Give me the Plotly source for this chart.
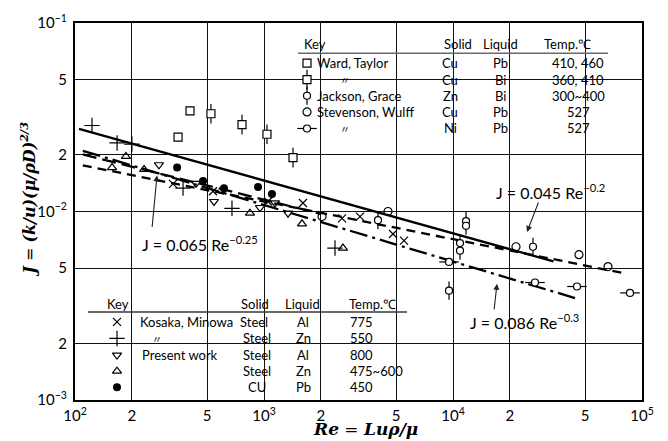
import plotly.graph_objects as go

# ---------------- measured data: Reynolds number / J factor ----------------
ward_cupb_re = [351, 406]
ward_cupb_j = [0.0248, 0.0342]
ward_cubi_re = [524, 765, 1037, 1424]
ward_cubi_j = [0.0330, 0.0289, 0.0257, 0.0193]
jackson_re = [4010, 11720, 11720, 10890, 10890, 9525, 26500]
jackson_j = [0.0090, 0.0089, 0.0084, 0.0068, 0.0062, 0.0038, 0.0065]
stev_cu_re = [2028, 4530, 21540, 46400, 66100]
stev_cu_j = [0.0094, 0.0100, 0.0065, 0.0059, 0.0051]
stev_ni_re = [9525, 27150, 45300, 86400]
stev_ni_j = [0.0054, 0.0042, 0.0040, 0.0037]
kosaka_al_re = [330, 537, 1050, 1608, 2587, 3220, 4815, 5505]
kosaka_al_j = [0.0140, 0.0128, 0.0113, 0.0111, 0.0092, 0.0094, 0.0076, 0.0070]
kosaka_zn_re = [123, 167, 200, 373, 677, 2375]
kosaka_zn_j = [0.0286, 0.0231, 0.0228, 0.0133, 0.0104, 0.0064]
present_al_re = [278, 437, 544, 952, 1143, 1340]
present_al_j = [0.0177, 0.0141, 0.0113, 0.0105, 0.0111, 0.0098]
present_zn_re = [157, 186, 232, 843, 1589, 2617]
present_zn_j = [0.0171, 0.0196, 0.0167, 0.0098, 0.0086, 0.0064]
present_cupb_re = [347, 476, 614, 930, 1102]
present_cupb_j = [0.0171, 0.0145, 0.0133, 0.0135, 0.0124]

# ---------------- correlations J = C * Re^n over [Re_min, Re_max] ----------------
fit_solid = dict(C=0.101, n=-0.28, re=[105, 34000])
fit_045 = dict(C=0.045, n=-0.2, re=[110, 81300])
fit_065 = dict(C=0.065, n=-0.25, re=[110, 2000])
fit_086 = dict(C=0.086, n=-0.3, re=[110, 44200])

# ---------------- axis ticks ----------------
x_tickvals = [100, 200, 500, 1000, 2000, 5000, 10000, 20000, 50000, 100000]
x_ticktext = ["10<sup>2</sup>", "2", "5", "10<sup>3</sup>", "2", "5",
              "10<sup>4</sup>", "2", "5", "10<sup>5</sup>"]
y_tickvals = [0.001, 0.002, 0.005, 0.01, 0.02, 0.05, 0.1]
y_ticktext = ["10<sup>−3</sup>", "2", "5", "10<sup>−2</sup>", "2", "5", "10<sup>−1</sup>"]

# key tables
key_top_rows = [
    ("sq", "Ward, Taylor", "Cu", "Pb", "410, 460"),
    ("sqbar", "〃", "Cu", "Bi", "360, 410"),
    ("phi", "Jackson, Grace", "Zn", "Bi", "300~400"),
    ("circ", "Stevenson, Wulff", "Cu", "Pb", "527"),
    ("circbar", "〃", "Ni", "Pb", "527"),
]
key_bot_rows = [
    ("x", "Kosaka, Minowa", "Steel", "Al", "775"),
    ("plus", "〃", "Steel", "Zn", "550"),
    ("tdown", "Present work", "Steel", "Al", "800"),
    ("tup", "", "Steel", "Zn", "475~600"),
    ("dot", "", "CU", "Pb", "450"),
]

# ---------------- page geometry ----------------
W, H = 668, 441
ML, MR, MT, MB = 75, 26, 14, 41
PW, PH = W - ML - MR, H - MT - MB


def fx(x):
    return (x - ML) / PW


def fy(y):
    return (H - MB - y) / PH


TXT = "Lato"
SERIF = "DejaVu Serif"

fig = go.Figure()


def add_marks(xs, ys, kind, xa="x", ya="y"):
    common = dict(mode="markers", xaxis=xa, yaxis=ya, showlegend=False, hoverinfo="skip")
    blk = dict(color="black", width=1.2)
    if kind == "sq":
        fig.add_trace(go.Scatter(x=xs, y=ys, marker=dict(symbol="square-open", size=8, color="black", line=blk), **common))
    elif kind == "sqbar":
        fig.add_trace(go.Scatter(x=xs, y=ys, marker=dict(symbol="line-ns-open", size=14, color="black", line=blk), **common))
        fig.add_trace(go.Scatter(x=xs, y=ys, marker=dict(symbol="square", size=8, color="white", line=blk), **common))
    elif kind == "phi":
        fig.add_trace(go.Scatter(x=xs, y=ys, marker=dict(symbol="line-ns-open", size=13, color="black", line=blk), **common))
        fig.add_trace(go.Scatter(x=xs, y=ys, marker=dict(symbol="circle", size=7, color="white", line=blk), **common))
    elif kind == "circ":
        fig.add_trace(go.Scatter(x=xs, y=ys, marker=dict(symbol="circle-open", size=8, color="black", line=blk), **common))
    elif kind == "circbar":
        fig.add_trace(go.Scatter(x=xs, y=ys, marker=dict(symbol="line-ew-open", size=14, color="black", line=blk), **common))
        fig.add_trace(go.Scatter(x=xs, y=ys, marker=dict(symbol="circle", size=7, color="white", line=blk), **common))
    elif kind == "x":
        fig.add_trace(go.Scatter(x=xs, y=ys, marker=dict(symbol="x-thin-open", size=8, color="black", line=blk), **common))
    elif kind == "plus":
        fig.add_trace(go.Scatter(x=xs, y=ys, marker=dict(symbol="cross-thin-open", size=11, color="black", line=blk), **common))
    elif kind == "tdown":
        fig.add_trace(go.Scatter(x=xs, y=ys, marker=dict(symbol="triangle-down-open", size=8, color="black", line=blk), **common))
    elif kind == "tup":
        fig.add_trace(go.Scatter(x=xs, y=ys, marker=dict(symbol="triangle-up-open", size=8, color="black", line=blk), **common))
    elif kind == "dot":
        fig.add_trace(go.Scatter(x=xs, y=ys, marker=dict(symbol="circle", size=8, color="black", line=dict(width=0)), **common))


def add_fit(fit, dash):
    re = fit["re"]
    j = [fit["C"] * r ** fit["n"] for r in re]
    fig.add_trace(go.Scatter(x=re, y=j, mode="lines", showlegend=False, hoverinfo="skip",
                             line=dict(color="black", width=2.3, dash=dash)))


add_fit(fit_solid, "solid")
add_fit(fit_045, "9px,6px")
add_fit(fit_065, "14px,6px")
add_fit(fit_086, "18px,5px,3px,5px")

add_marks(ward_cupb_re, ward_cupb_j, "sq")
add_marks(ward_cubi_re, ward_cubi_j, "sqbar")
add_marks(jackson_re, jackson_j, "phi")
add_marks(stev_cu_re, stev_cu_j, "circ")
add_marks(stev_ni_re, stev_ni_j, "circbar")
add_marks(kosaka_al_re, kosaka_al_j, "x")
add_marks(kosaka_zn_re, kosaka_zn_j, "plus")
add_marks(present_al_re, present_al_j, "tdown")
add_marks(present_zn_re, present_zn_j, "tup")
add_marks(present_cupb_re, present_cupb_j, "dot")

annotations = []
shapes = []


def text(x, y, s, size=13, anchor="center", font=TXT, **kw):
    annotations.append(dict(x=fx(x), y=fy(y), xref="paper", yref="paper", text=s, showarrow=False,
                            xanchor=anchor, yanchor="middle", font=dict(family=font, size=size, color="black"), **kw))


# white panels behind the two key tables (hide the grid there)
for (x0, y0, x1, y1) in [(290, 19, 625, 133), (87, 285, 435, 392)]:
    shapes.append(dict(type="rect", xref="paper", yref="paper", x0=fx(x0), x1=fx(x1), y0=fy(y1), y1=fy(y0),
                       fillcolor="white", line=dict(width=0), layer="between"))

# upper key
top_rows_y = [55, 72, 88.5, 105, 122]
text(302, 36, "Key", anchor="left")
text(458, 36, "Solid")
text(500, 36, "Liquid")
text(567, 36, "Temp.℃")
shapes.append(dict(type="line", xref="paper", yref="paper", x0=fx(298), x1=fx(608), y0=fy(45), y1=fy(45),
                   line=dict(color="#6a6a6a", width=1.5)))
for yy, (kind, name, solid, liq, temp) in zip(top_rows_y, key_top_rows):
    add_marks([fx(307)], [fy(yy)], kind, "x2", "y2")
    if name == "〃":
        text(345, yy, name, size=10, font="Noto Sans CJK JP")
    else:
        text(315, yy, name, anchor="left")
    text(450, yy, solid)
    text(500, yy, liq)
    text(578, yy, temp)

# lower key
bot_rows_y = [320, 337, 354, 370.5, 387]
text(105, 302, "Key", anchor="left")
text(255, 302, "Solid")
text(302, 302, "Liquid")
text(372, 302, "Temp.℃")
shapes.append(dict(type="line", xref="paper", yref="paper", x0=fx(88), x1=fx(407), y0=fy(310), y1=fy(310),
                   line=dict(color="#3a3a3a", width=1.5)))
for i, (yy, (kind, name, solid, liq, temp)) in enumerate(zip(bot_rows_y, key_bot_rows)):
    add_marks([fx(117)], [fy(yy)], kind, "x2", "y2")
    if name == "〃":
        text(157, yy, name, size=10, font="Noto Sans CJK JP")
    elif name:
        text(138 if i == 0 else 140, yy, name, anchor="left")
    text(254 if i == 0 else 257, yy, solid)
    text(303, yy, liq)
    text(348, yy, temp, anchor="left")

# correlation labels with arrows
text(200, 240, "J = 0.065 Re<sup>−0.25</sup>", size=16)
text(550, 187, "J = 0.045 Re<sup>−0.2</sup>", size=16)
text(524, 320, "J = 0.086 Re<sup>−0.3</sup>", size=16)
for (tx, ty, hx, hy) in [(152, 223, 157, 170), (539, 197, 527, 228), (494, 308, 497, 281)]:
    annotations.append(dict(x=fx(hx), y=fy(hy), xref="paper", yref="paper", ax=tx - hx, ay=ty - hy,
                            axref="pixel", ayref="pixel", text="", showarrow=True, arrowhead=2,
                            arrowsize=1.1, arrowwidth=1.1, arrowcolor="#222"))

# axis titles
annotations.append(dict(x=fx(365), y=fy(430), xref="paper", yref="paper", showarrow=False,
                        xanchor="center", yanchor="middle",
                        text="<b><i>Re</i></b> = <b><i>Luρ/μ</i></b>",
                        font=dict(family=SERIF, size=17, color="black")))
annotations.append(dict(x=fx(28), y=fy(195), xref="paper", yref="paper", showarrow=False, textangle=-90,
                        xanchor="center", yanchor="middle",
                        text="<b><i>J</i></b> = <b><i>(k/u)(μ/ρD)</i></b><sup><b><i>2/3</i></b></sup>",
                        font=dict(family=SERIF, size=16, color="black")))

axis_common = dict(type="log", showline=True, mirror=True, linecolor="black", linewidth=2.2,
                   showgrid=True, gridcolor="#111", gridwidth=1, ticks="", zeroline=False,
                   tickfont=dict(family=TXT, size=15, color="black"))
fig.update_layout(
    width=W, height=H, margin=dict(l=ML, r=MR, t=MT, b=MB),
    paper_bgcolor="white", plot_bgcolor="white",
    xaxis=dict(range=[2, 5], tickvals=x_tickvals, ticktext=x_ticktext, ticklabelstandoff=1, **axis_common),
    yaxis=dict(range=[-3, -1], tickvals=y_tickvals, ticktext=y_ticktext, ticklabelstandoff=3, **axis_common),
    xaxis2=dict(overlaying="x", range=[0, 1], visible=False, anchor="y2"),
    yaxis2=dict(overlaying="y", range=[0, 1], visible=False, anchor="x2"),
    annotations=annotations, shapes=shapes, showlegend=False,
)

fig.write_html("out.html")
